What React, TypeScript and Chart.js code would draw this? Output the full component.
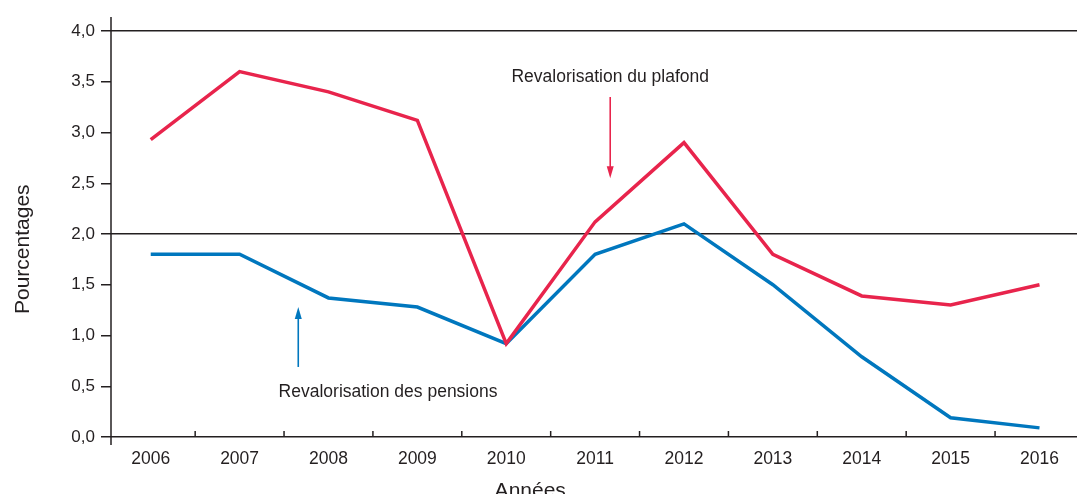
import React, { useEffect, useRef } from 'react';
import { Chart, registerables } from 'chart.js';

Chart.register(...registerables);

// ---- Data ----
const years = [2006, 2007, 2008, 2009, 2010, 2011, 2012, 2013, 2014, 2015, 2016];
const plafond = [2.93, 3.6, 3.4, 3.12, 0.92, 2.12, 2.9, 1.8, 1.39, 1.3, 1.5];
const pensions = [1.8, 1.8, 1.37, 1.28, 0.92, 1.8, 2.1, 1.5, 0.79, 0.19, 0.09];
const yTickValues = [0, 0.5, 1, 1.5, 2, 2.5, 3, 3.5, 4];
const yMajorLines = [0, 2, 4];

const seriesNames = ['Revalorisation du plafond', 'Revalorisation des pensions'];
const yTitle = 'Pourcentages';
const xTitle = 'Années';

// annotation anchors in data units: [labelX, labelY, arrowFromY, arrowToY, arrowX]
const plafondNote = { labelX: 2011.17, labelY: 3.55, arrowX: 2011.17, fromY: 3.35, toY: 2.55 };
const pensionsNote = { labelX: 2008.67, labelY: 0.44, arrowX: 2007.66, fromY: 0.69, toY: 1.28 };

const RED = '#E8244C';
const BLUE = '#0077BE';
const INK = '#231f20';
const FONT = '"Liberation Sans", Arial, Helvetica, sans-serif';

const fmt = (v: number) => v.toFixed(1).replace('.', ',');

const decorPlugin = {
  id: 'decor',
  afterDatasetsDraw(chart: any) {
    const { ctx, chartArea, scales } = chart;
    const xs = scales.x;
    const ys = scales.y;
    ctx.save();
    // y axis line (extends beyond the plot area)
    ctx.strokeStyle = INK;
    ctx.lineWidth = 1.5;
    ctx.beginPath();
    ctx.moveTo(chartArea.left, chartArea.top - 14);
    ctx.lineTo(chartArea.left, chartArea.bottom + 8);
    ctx.stroke();
    // x tick marks between years (pointing upward)
    for (let i = 0; i < years.length - 1; i++) {
      const px = xs.getPixelForValue(years[i] + 0.5);
      ctx.beginPath();
      ctx.moveTo(px, chartArea.bottom);
      ctx.lineTo(px, chartArea.bottom - 6);
      ctx.stroke();
    }

    // annotations
    const drawArrow = (x: number, y0: number, y1: number, color: string) => {
      const px = xs.getPixelForValue(x);
      const p0 = ys.getPixelForValue(y0);
      const p1 = ys.getPixelForValue(y1);
      const dir = p1 > p0 ? 1 : -1;
      ctx.strokeStyle = color;
      ctx.fillStyle = color;
      ctx.lineWidth = 1.6;
      ctx.beginPath();
      ctx.moveTo(px, p0);
      ctx.lineTo(px, p1 - dir * 8);
      ctx.stroke();
      ctx.beginPath();
      ctx.moveTo(px, p1);
      ctx.lineTo(px - 3.5, p1 - dir * 12);
      ctx.lineTo(px + 3.5, p1 - dir * 12);
      ctx.closePath();
      ctx.fill();
    };
    drawArrow(plafondNote.arrowX, plafondNote.fromY, plafondNote.toY, RED);
    drawArrow(pensionsNote.arrowX, pensionsNote.fromY, pensionsNote.toY, BLUE);

    ctx.fillStyle = INK;
    ctx.font = `17.5px ${FONT}`;
    ctx.textAlign = 'center';
    ctx.textBaseline = 'middle';
    ctx.fillText(seriesNames[0], xs.getPixelForValue(plafondNote.labelX), ys.getPixelForValue(plafondNote.labelY));
    ctx.fillText(seriesNames[1], xs.getPixelForValue(pensionsNote.labelX), ys.getPixelForValue(pensionsNote.labelY));

    // axis titles
    ctx.font = `21px ${FONT}`;
    ctx.textBaseline = 'alphabetic';
    ctx.fillText(xTitle, xs.getPixelForValue(2010.27), chartArea.bottom + 60);
    ctx.save();
    ctx.translate(29, ys.getPixelForValue(1.85));
    ctx.rotate(-Math.PI / 2);
    ctx.fillText(yTitle, 0, 0);
    ctx.restore();
    ctx.restore();
  },
};

export default function App() {
  const ref = useRef<HTMLCanvasElement | null>(null);
  useEffect(() => {
    if (!ref.current) return;
    const chart = new Chart(ref.current, {
      type: 'line',
      data: {
        datasets: [
          {
            label: seriesNames[0],
            data: years.map((y, i) => ({ x: y, y: plafond[i] })),
            borderColor: RED,
            backgroundColor: RED,
            borderWidth: 3.5,
            pointRadius: 0,
            tension: 0,
            clip: false as any,
          },
          {
            label: seriesNames[1],
            data: years.map((y, i) => ({ x: y, y: pensions[i] })),
            borderColor: BLUE,
            backgroundColor: BLUE,
            borderWidth: 3.5,
            pointRadius: 0,
            tension: 0,
            clip: false as any,
          },
        ],
      },
      options: {
        responsive: false,
        animation: false,
        events: [],
        layout: { padding: { top: 31, right: 0, bottom: 0, left: 0 } },
        plugins: { legend: { display: false }, tooltip: { enabled: false } },
        scales: {
          x: {
            type: 'linear',
            min: 2005.553,
            max: 2016.422,
            afterBuildTicks: (s: any) => {
              s.ticks = years.map((v) => ({ value: v }));
            },
            afterFit: (s: any) => {
              s.height = 57;
            },
            grid: { display: false, drawTicks: false },
            border: { display: false },
            ticks: {
              color: INK,
              font: { family: FONT, size: 17.5 },
              padding: 12,
              maxRotation: 0,
              autoSkip: false,
              callback: (v: any) => String(v),
            },
          },
          y: {
            min: 0,
            max: 4,
            afterBuildTicks: (s: any) => {
              s.ticks = yTickValues.map((v) => ({ value: v }));
            },
            afterFit: (s: any) => {
              s.width = 111;
            },
            grid: {
              color: (c: any) => (yMajorLines.includes(c.tick?.value) ? INK : 'rgba(0,0,0,0)'),
              tickColor: INK,
              lineWidth: 1.5,
              tickLength: 10,
              drawTicks: true,
            },
            border: { display: false },
            ticks: {
              color: INK,
              font: { family: FONT, size: 17 },
              padding: 6,
              callback: (v: any) => fmt(Number(v)),
            },
          },
        },
      },
      plugins: [decorPlugin],
    });
    return () => chart.destroy();
  }, []);
  return (
    <div style={{ position: 'absolute', left: 0, top: 0, width: 1077, height: 494, background: '#fff' }}>
      <canvas ref={ref} width={1077} height={494} style={{ display: 'block' }} />
    </div>
  );
}
